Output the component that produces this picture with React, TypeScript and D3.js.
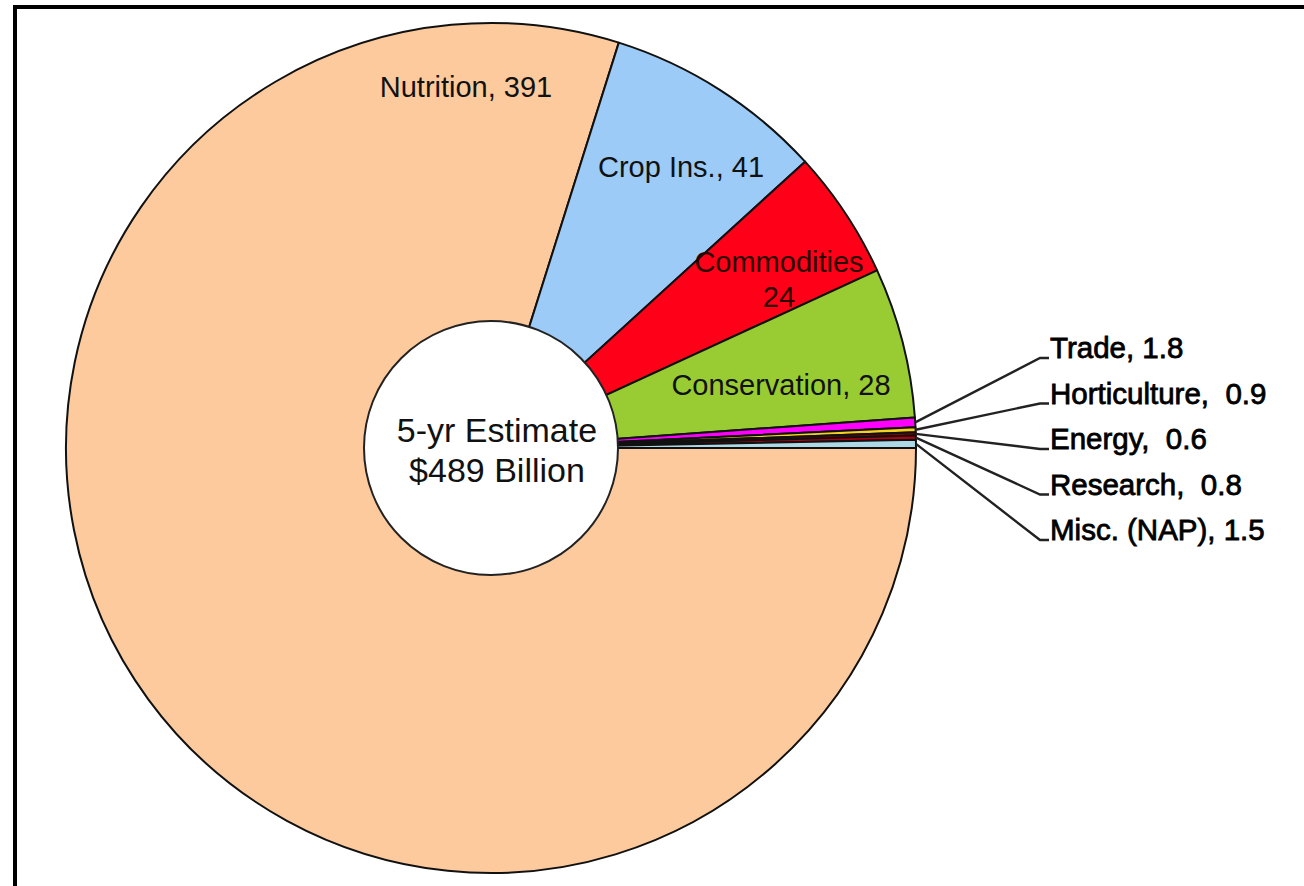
import React from "react";
import * as d3 from "d3";

const categories = ["Nutrition", "Crop Ins.", "Commodities", "Conservation", "Trade", "Horticulture", "Energy", "Research", "Misc. (NAP)"];
const values = [391, 41, 24, 28, 1.8, 0.9, 0.6, 0.8, 1.5];
const colors = ["#fdca9d", "#9ccbf8", "#ff0019", "#99cc33", "#ff00ff", "#f5d020", "#8a0000", "#b00010", "#add8e6"];
const insideLabels = ["Nutrition, 391", "Crop Ins., 41", "Commodities|24", "Conservation, 28"];
const outsideLabels = ["Trade, 1.8", "Horticulture,  0.9", "Energy,  0.6", "Research,  0.8", "Misc. (NAP), 1.5"];
const centerLines = ["5-yr Estimate", "$489 Billion"];

const W = 1304, H = 886;
const cx = 491, cy = 448, R = 425, r0 = 127;
const insidePos = [
  [466, 97],
  [681, 177],
  [779, 272],
  [781, 395],
];

export default function App() {
  const data = categories.map((c, i) => ({ c, v: values[i], color: colors[i] }));
  const pie = d3.pie<any>().value((d) => d.v).sort(null).startAngle(Math.PI / 2).endAngle(Math.PI / 2 + 2 * Math.PI);
  const arcs = pie(data);
  const arc = d3.arc<any>().innerRadius(0).outerRadius(R);
  const font = "Liberation Sans, Arial, sans-serif";
  const small = arcs.slice(4);
  return (
    <svg width={W} height={H} style={{ position: "absolute", left: 0, top: 0, background: "#fff" }} fontFamily={font}>
      <rect x={0} y={0} width={W} height={H} fill="#fff" />
      <line x1={15} y1={7} x2={W} y2={7} stroke="#000" strokeWidth={4} />
      <line x1={15} y1={5} x2={15} y2={H} stroke="#000" strokeWidth={4} />
      <g transform={`translate(${cx},${cy})`}>
        {arcs.map((a, i) => (
          <path key={i} d={arc(a) as string} fill={a.data.color} stroke="#111" strokeWidth={2} strokeLinejoin="round" />
        ))}
        <circle r={r0} fill="#fff" stroke="#222" strokeWidth={2} />
      </g>
      {insideLabels.map((t, i) => {
        const parts = t.split("|");
        return parts.map((p, j) => (
          <text key={i + "-" + j} x={insidePos[i][0]} y={insidePos[i][1] + j * 35} textAnchor="middle" fontSize={29} fill={i === 2 ? "#2a0000" : "#111"}>
            {p}
          </text>
        ));
      })}
      {small.map((a, i) => {
        const ang = (a.startAngle + a.endAngle) / 2;
        const sx = cx + R * Math.sin(ang);
        const sy = cy - R * Math.cos(ang);
        const ty = 358 + i * 45.5;
        return (
          <g key={i}>
            <polyline points={`${sx},${sy} 1040,${ty} 1049,${ty}`} fill="none" stroke="#222" strokeWidth={2.4} />
            <text x={1050} y={ty} fontSize={29.5} fill="#000" stroke="#000" strokeWidth={0.8} style={{ whiteSpace: "pre" }}>
              {outsideLabels[i]}
            </text>
          </g>
        );
      })}
      {centerLines.map((t, i) => (
        <text key={i} x={cx + 6} y={442 + i * 40} textAnchor="middle" fontSize={34} fill="#111">
          {t}
        </text>
      ))}
    </svg>
  );
}
